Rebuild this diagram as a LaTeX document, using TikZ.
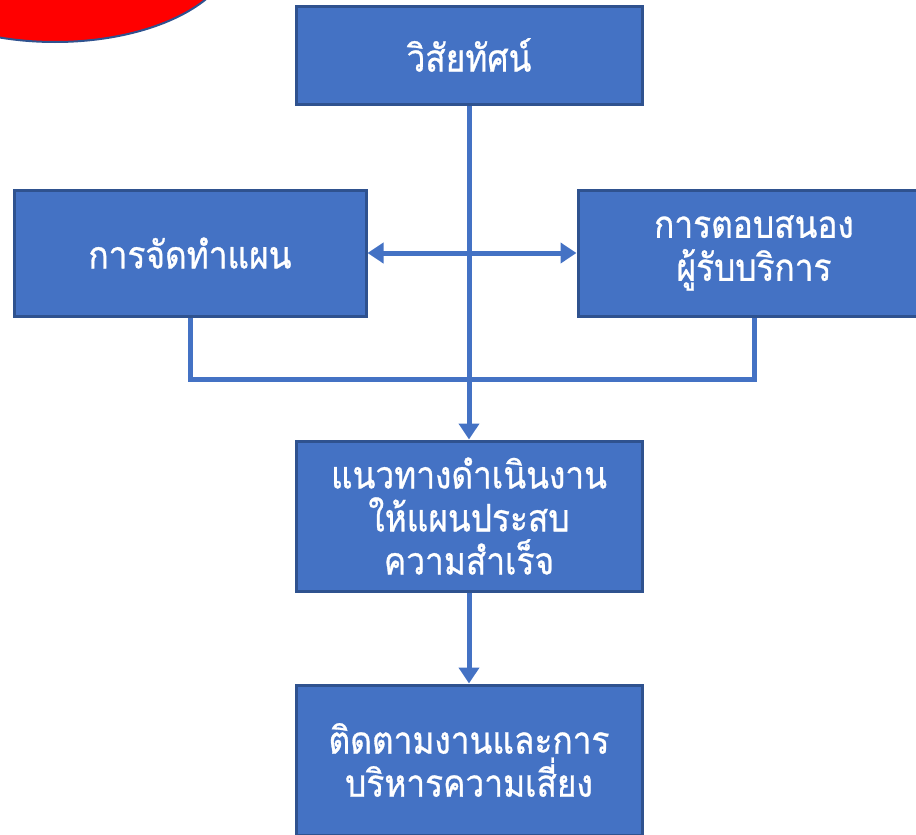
\documentclass[tikz,border=0pt]{standalone}
\usepackage{fontspec}
\newfontfamily\thaifont[Script=Thai,FakeStretch=0.88,FakeBold=0.8]{Loma}
\usetikzlibrary{arrows.meta}
\definecolor{boxfill}{HTML}{4472C4}
\definecolor{boxline}{HTML}{2F528F}
\definecolor{connc}{HTML}{4472C4}
\begin{document}
\begin{tikzpicture}[x=1pt,y=-1pt,
  box/.style={draw=boxline, line width=3pt, fill=boxfill, text=white,
    font=\thaifont\fontsize{38}{43}\selectfont, align=center, inner sep=0pt},
  conn/.style={draw=connc, line width=5pt},
  tip/.style={-{Triangle[width=20pt,length=16pt]}},
  dtip/.style={{Triangle[width=20pt,length=16pt]}-{Triangle[width=20pt,length=16pt]}}]
\useasboundingbox (0,0) rectangle (916,835);
\clip (0,0) rectangle (916,835);
\fill[red, draw=boxline, line width=2pt] (55,-50) ellipse [x radius=178.6, y radius=92];
\node[box, minimum width=346pt, minimum height=98pt] (top) at (469,55) {วิสัยทัศน์};
\node[box, minimum width=352pt, minimum height=126pt] (left) at (190,253) {การจัดทำแผน};
\node[box, minimum width=352pt, minimum height=126pt] (right) at (754,253) {การตอบสนอง\\ผู้รับบริการ};
\node[box, minimum width=346pt, minimum height=150pt] (mid) at (469,516) {แนวทางดำเนินงาน\\ให้แผนประสบ\\ความสำเร็จ};
\node[box, minimum width=346pt, minimum height=150pt] (bot) at (469,760) {ติดตามงานและการ\\บริหารความเสี่ยง};
\draw[conn] (left.south) -- ++(0,62) -| (right.south);
\draw[conn, dtip] (left.east) -- (right.west);
\draw[conn, tip] (top.south) -- (mid.north);
\draw[conn, tip] (mid.south) -- (bot.north);
\end{tikzpicture}
\end{document}
